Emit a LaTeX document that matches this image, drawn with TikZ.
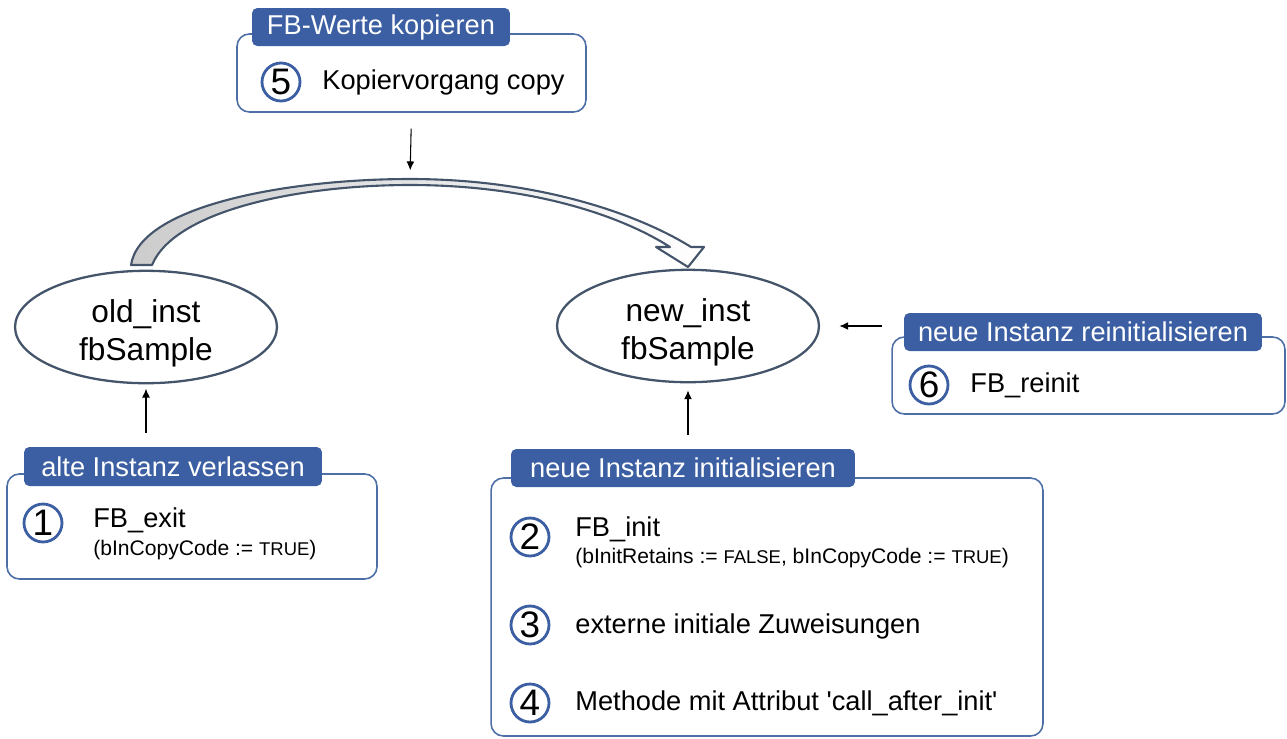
\documentclass[tikz,border=0pt]{standalone}
\usepackage{fontspec}
\setmainfont{Liberation Sans}
\usetikzlibrary{shapes.geometric,arrows.meta}

\definecolor{tabblau}{RGB}{59,95,162}
\definecolor{randblau}{RGB}{78,110,166}
\definecolor{schiefer}{RGB}{68,84,106}

\tikzset{
  kasten/.style={draw=randblau,line width=.9pt,rounded corners=7pt,fill=white,inner sep=0pt},
  reiter/.style={fill=tabblau,rounded corners=3pt,text=white,inner sep=0pt,font=\fontsize{15.5}{18}\selectfont},
  nummer/.style={circle,draw=tabblau,line width=1.6pt,minimum size=.76cm,inner sep=0pt,font=\fontsize{21}{24}\selectfont},
  eintrag/.style={anchor=west,inner sep=0pt,font=\fontsize{15.5}{18}\selectfont},
  klein/.style={anchor=west,inner sep=0pt,font=\fontsize{12}{14}\selectfont},
  instanz/.style={ellipse,draw=schiefer,line width=1.3pt,minimum width=5.24cm,minimum height=2.16cm,inner sep=0pt,align=center,font=\fontsize{18}{21.5}\selectfont},
  pfeil/.style={-{Latex[length=5pt,width=4.5pt]},line width=.6pt}
}
\newcommand{\gross}[1]{{\fontsize{10.5}{12}\selectfont #1}}

\begin{document}
\begin{tikzpicture}[x=0.02cm,y=-0.02cm]
\useasboundingbox (0,0) rectangle (1287,738);

% Instanzen
\node[instanz] (old) at (146,327) {\rule{0pt}{20pt}old\_inst\\fbSample};
\node[instanz] (new) at (688,326) {\rule{0pt}{20pt}new\_inst\\fbSample};

% Kopierpfeil
\path[left color=black!20,right color=white,draw=schiefer,line width=1.2pt,line join=round]
  (131,265) .. controls (140,205) and (290,179) .. (410,179)
  .. controls (540,179) and (640,215) .. (691,247) -- (704,247) -- (688,267) -- (656,247) -- (670,247)
  .. controls (620,215) and (530,185) .. (410,185)
  .. controls (300,185) and (175,210) .. (152,265) -- cycle;
\coordinate (bogen) at (410,179);

% 5
\node[kasten,minimum width=6.98cm,minimum height=1.56cm] (box5) at (411.5,73) {};
\node[reiter,minimum width=5.16cm,minimum height=.76cm] (tab5) at (381,27) {FB-Werte kopieren};
\node[nummer] (n5) at (281,82) {5};
\node[eintrag] (t5) at (322,82) {Kopiervorgang copy};

% 1
\node[kasten,minimum width=7.4cm,minimum height=2.1cm] (box1) at (192,526.5) {};
\node[reiter,minimum width=5.96cm,minimum height=.78cm] (tab1) at (173,466.5) {alte Instanz verlassen};
\node[nummer] (n1) at (43,523) {1};
\node[eintrag] (t1) at (93,520) {FB\_exit};
\node[klein] (t1b) at (93,550) {(bInCopyCode := \gross{TRUE})};

% 2-4
\node[kasten,minimum width=11.04cm,minimum height=5.16cm] (box2) at (767,607) {};
\node[reiter,minimum width=6.88cm,minimum height=.76cm] (tab2) at (683,468) {neue Instanz initialisieren};
\node[nummer] (n2) at (530,537) {2};
\node[eintrag] (t2) at (575,529) {FB\_init};
\node[klein] (t2b) at (575,558) {(bInitRetains := \gross{FALSE}, bInCopyCode := \gross{TRUE})};
\node[nummer] (n3) at (530,625) {3};
\node[eintrag] (t3) at (575,626) {externe initiale Zuweisungen};
\node[nummer] (n4) at (530,703) {4};
\node[eintrag] (t4) at (575,703) {Methode mit Attribut \textquotesingle call\_after\_init\textquotesingle};

% 6
\node[kasten,minimum width=7.86cm,minimum height=1.54cm] (box6) at (1088.5,375.5) {};
\node[reiter,minimum width=7.16cm,minimum height=.76cm] (tab6) at (1083,332) {neue Instanz reinitialisieren};
\node[nummer] (n6) at (929,385) {6};
\node[eintrag] (t6) at (970,385) {FB\_reinit};

% Pfeile
\draw[pfeil,shorten <=9pt,shorten >=5pt] (box5.south) -- (bogen);
\draw[pfeil,shorten <=8pt,shorten >=2.5pt] (old.south |- tab1.north) -- (old.south);
\draw[pfeil,shorten <=8pt,shorten >=4pt] (new.south |- tab2.north) -- (new.south);
\draw[pfeil,shorten <=12.5pt,shorten >=11pt] (tab6.west |- new.east) -- (new.east);
\end{tikzpicture}
\end{document}
